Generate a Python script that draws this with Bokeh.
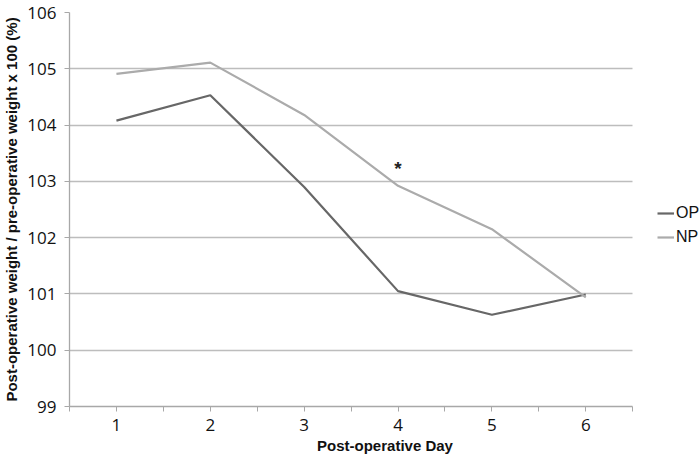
from bokeh.plotting import figure
from bokeh.models import FixedTicker, Legend, LegendItem, ColumnDataSource, Range1d
from bokeh.core.properties import value
from bokeh.embed import file_html
from bokeh.resources import INLINE

# Data
days = [1, 2, 3, 4, 5, 6]
op_values = [104.08, 104.53, 102.9, 101.05, 100.63, 100.99]
np_values = [104.91, 105.11, 104.18, 102.92, 102.15, 100.94]
y_ticks = [99, 100, 101, 102, 103, 104, 105, 106]
annot_x = [4]
annot_y = [103.22]
annot_text = ["*"]

x_lo, x_hi = 0.5, 6.5
# frame reaches the right edge so the legend (outside the axis extent) is visible
x_view_hi = x_hi + (x_hi - x_lo) * 68 / 565

p = figure(width=700, height=459, output_backend="svg", toolbar_location=None,
           x_range=Range1d(x_lo, x_view_hi), y_range=Range1d(99, 106),
           min_border_left=67, min_border_right=0, min_border_top=12, min_border_bottom=53)
p.outline_line_color = None
p.background_fill_color = "white"
p.border_fill_color = "white"

op_r = p.line(days, op_values, line_color="#676767", line_width=2.2)
np_r = p.line(days, np_values, line_color="#ababab", line_width=2.2)

src = ColumnDataSource(dict(x=annot_x, y=annot_y, t=annot_text))
p.text(x="x", y="y", text="t", source=src, text_align="center", text_baseline="middle",
       text_font=value("Liberation Sans"), text_font_size="19px", text_font_style="bold",
       text_color="#222222")

# Axes
p.xaxis.ticker = FixedTicker(ticks=days, minor_ticks=[0.5, 1.5, 2.5, 3.5, 4.5, 5.5, 6.5])
p.xaxis.bounds = (x_lo, x_hi)
p.yaxis.ticker = FixedTicker(ticks=y_ticks)
for ax in (p.xaxis, p.yaxis):
    ax.axis_line_color = "#a8a8a8"
    ax.axis_line_width = 1.3
    ax.major_tick_line_color = "#a8a8a8"
    ax.minor_tick_line_color = "#a8a8a8"
    ax.major_tick_in = 0
    ax.major_tick_out = 5
    ax.minor_tick_in = 0
    ax.major_label_text_font = "Open Sans"
    ax.major_label_text_font_size = "17px"
    ax.major_label_text_color = "#111111"
    ax.axis_label_text_font = "Liberation Sans"
    ax.axis_label_text_font_style = "bold"
    ax.axis_label_text_font_size = "15px"
    ax.axis_label_text_color = "#111111"
p.xaxis.minor_tick_out = 5
p.yaxis.minor_tick_out = 0
p.xaxis.axis_label = "Post-operative Day"
p.yaxis.axis_label = "Post-operative weight / pre-operative weight x 100 (%)"
p.xaxis.major_label_standoff = 7
p.xaxis.axis_label_standoff = 3
p.yaxis.major_label_standoff = 8
p.yaxis.axis_label_standoff = 4

p.xgrid.grid_line_color = None
p.ygrid.ticker = FixedTicker(ticks=y_ticks)
p.ygrid.cross_bounds = (x_lo, x_hi)
p.ygrid.grid_line_color = "#bdbdbd"
p.ygrid.grid_line_width = 1.3

legend = Legend(items=[LegendItem(label="OP", renderers=[op_r]),
                       LegendItem(label="NP", renderers=[np_r])],
                location=(588, 159), orientation="vertical",
                margin=0, padding=0, spacing=4,
                glyph_width=17, glyph_height=20, label_standoff=2,
                label_text_font="Liberation Sans", label_text_font_size="16px",
                label_text_color="#111111", label_height=20,
                border_line_color=None, background_fill_alpha=0)
p.add_layout(legend, "center")

open("out.html", "w").write(file_html(p, INLINE))
